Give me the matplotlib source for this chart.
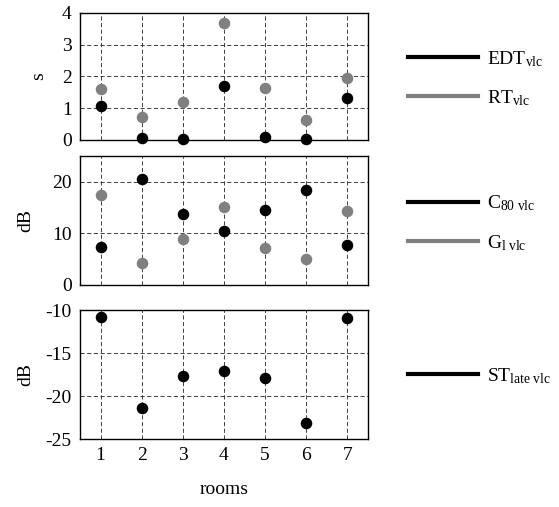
import matplotlib
matplotlib.use("Agg")
import matplotlib.pyplot as plt
from matplotlib.lines import Line2D

plt.rcParams['font.family'] = ['Liberation Serif', 'DejaVu Serif']
plt.rcParams['mathtext.fontset'] = 'custom'
plt.rcParams['mathtext.rm'] = 'Liberation Serif'
plt.rcParams['mathtext.it'] = 'Liberation Serif:italic'
plt.rcParams['axes.unicode_minus'] = False

# data
rooms = [1, 2, 3, 4, 5, 6, 7]
edt = [1.07, 0.06, 0.04, 1.71, 0.08, 0.04, 1.33]
rt = [1.60, 0.72, 1.19, 3.69, 1.64, 0.62, 1.95]
c80 = [7.4, 20.5, 13.7, 10.4, 14.5, 18.4, 7.7]
g = [17.5, 4.2, 9.0, 15.1, 7.1, 5.1, 14.4]
st_late = [-10.8, -21.4, -17.7, -17.1, -17.9, -23.1, -10.85]

black = '#000000'
grey = '#808080'
fs = 14

fig = plt.figure(figsize=(5.59, 5.07), dpi=100)
ax1 = fig.add_axes([0.143, 0.724, 0.515, 0.2505])
ax2 = fig.add_axes([0.143, 0.438, 0.515, 0.254])
ax3 = fig.add_axes([0.143, 0.134, 0.515, 0.254])

panels = [
    (ax1, [(rt, grey), (edt, black)], (0, 4), [0, 1, 2, 3, 4], 's', -0.115, 0.484,
     [(r'EDT$_{\mathrm{vlc}}$', black), (r'RT$_{\mathrm{vlc}}$', grey)]),
    (ax2, [(g, grey), (c80, black)], (0, 25), [0, 10, 20], 'dB', -0.16, 0.48,
     [(r'C$_{\mathrm{80\ vlc}}$', black), (r'G$_{\mathrm{l\ vlc}}$', grey)]),
    (ax3, [(st_late, black)], (-25, -10), [-25, -20, -15, -10], 'dB', -0.16, 0.49,
     [(r'ST$_{\mathrm{late\ vlc}}$', black)]),
]

for ax, series, ylim, yticks, ylabel, lx, ly, leg in panels:
    for vals, col in series:
        ax.plot(rooms, vals, 'o', color=col, ms=7.3, mec=col, clip_on=False, zorder=3)
    ax.set_xlim(0.5, 7.5)
    ax.set_ylim(*ylim)
    ax.set_xticks(rooms)
    ax.set_yticks(yticks)
    ax.grid(True, color='#222222', linestyle='--', linewidth=0.6, dashes=(5, 3))
    ax.set_axisbelow(True)
    ax.tick_params(length=0, labelsize=fs, pad=6)
    for sp in ax.spines.values():
        sp.set_linewidth(1.0)
    ax.set_ylabel(ylabel, fontsize=fs)
    ax.yaxis.set_label_coords(lx, 0.5)
    handles = [Line2D([], [], color=c, lw=3) for _, c in leg]
    ax.legend(handles, [t for t, _ in leg], loc='center left',
              bbox_to_anchor=(1.14, ly), frameon=False, fontsize=fs,
              handlelength=3.6, handletextpad=0.45, borderpad=0,
              borderaxespad=0, labelspacing=1.0)

ax1.set_xticklabels([])
ax2.set_xticklabels([])
ax3.set_xlabel('rooms', fontsize=fs, labelpad=12)

fig.savefig('out.png', dpi=100)
